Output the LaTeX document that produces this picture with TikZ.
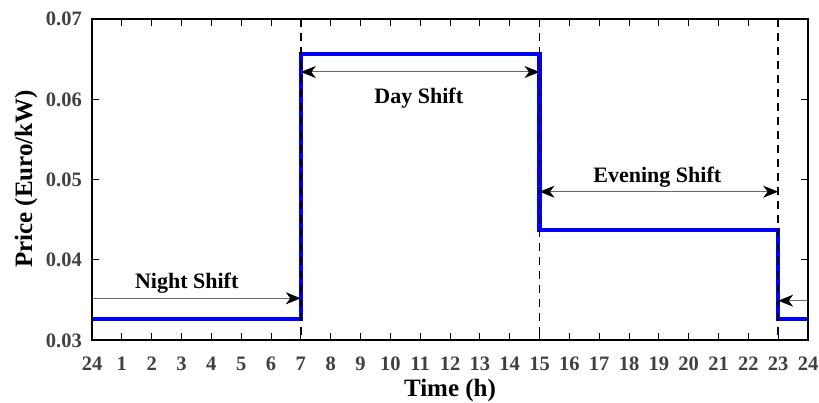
\documentclass[tikz,border=0pt]{standalone}
\usepackage{fontspec}
\setmainfont{Liberation Serif}
\usetikzlibrary{arrows.meta}
\definecolor{ticklbl}{RGB}{64,64,64}
\definecolor{arrgray}{RGB}{105,105,105}
\definecolor{priceblue}{RGB}{0,0,255}
\begin{document}
\begin{tikzpicture}[x=1pt,y=-1pt,
  axisbox/.style={line width=1.1pt,black},
  tickline/.style={line width=1pt,black},
  ticklab/.style={text=ticklbl,font=\fontsize{20.5}{24}\selectfont\bfseries,inner sep=0pt},
  axlab/.style={text=black,font=\fontsize{25}{30}\selectfont\bfseries,inner sep=0pt},
  shiftlab/.style={text=black,font=\fontsize{22}{26}\selectfont\bfseries,inner sep=0pt},
  priceline/.style={line width=4.5pt,priceblue,line cap=butt,line join=miter},
  vdash/.style={line width=1.5pt,black,dash pattern=on 8pt off 6pt},
  annarrow/.style={line width=1pt,arrgray,-{Stealth[black,length=15pt,width=12pt,inset=4.5pt]}},
  annarrow2/.style={line width=1pt,arrgray,{Stealth[black,length=15pt,width=12pt,inset=4.5pt]}-{Stealth[black,length=15pt,width=12pt,inset=4.5pt]}}
]
\useasboundingbox (0,0) rectangle (819,403);
% coordinates of the frame
\coordinate (bl) at (92,340);
\coordinate (tr) at (808,19);
% price curve
\draw[priceline] (92,319) -- (300.83,319) -- (300.83,54) -- (539.5,54) -- (539.5,230) -- (778.17,230) -- (778.17,319) -- (808,319);
% ticks
\foreach \i in {1,...,23}{
  \pgfmathsetmacro{\xx}{92+\i*29.8333}
  \draw[tickline] (\xx,340) -- (\xx,333);
  \draw[tickline] (\xx,19) -- (\xx,26);
}
\foreach \yy in {259.75,179.5,99.25}{
  \draw[tickline] (92,\yy) -- (99,\yy);
  \draw[tickline] (808,\yy) -- (801,\yy);
}
% frame
\draw[axisbox] (bl) rectangle (tr);
% dashed separators
\foreach \xx/\nm in {300.83/a,539.5/b,778.17/c}{
  \coordinate (dt\nm) at (\xx,19);
  \coordinate (db\nm) at (\xx,340);
  \draw[vdash] (dt\nm) -- (db\nm);
}
% x tick labels
\foreach \l [count=\i from 0] in {24,1,2,3,4,5,6,7,8,9,10,11,12,13,14,15,16,17,18,19,20,21,22,23,24}{
  \pgfmathsetmacro{\xx}{92+\i*29.8333}
  \node[ticklab,anchor=base] (xl\i) at (\xx,370) {\l};
}
% y tick labels
\foreach \v/\yy in {0.03/340,0.04/259.75,0.05/179.5,0.06/99.25,0.07/19}{
  \node[ticklab,anchor=base east] (yl\v) at (82,\yy+7) {\v};
}
% axis labels
\node[axlab,anchor=base] (xlabel) at (450,396) {Time (h)};
\node[axlab,anchor=base,rotate=90] (ylabel) at (32,179) {Price (Euro/kW)};
% shift annotations
\coordinate (ns0) at (93,298.3);
\coordinate (ns1) at (300.83,298.3);
\draw[annarrow] (ns0) -- (ns1);
\node[shiftlab,anchor=base] (night) at (186.7,288.5) {Night Shift};
\coordinate (ds0) at (300.83,72);
\coordinate (ds1) at (539.5,72);
\draw[annarrow2] (ds0) -- (ds1);
\node[shiftlab,anchor=base] (day) at (418.8,103.3) {Day Shift};
\coordinate (es0) at (539.5,191.7);
\coordinate (es1) at (778.17,191.7);
\draw[annarrow2] (es0) -- (es1);
\node[shiftlab,anchor=base] (evening) at (657.3,182.3) {Evening Shift};
\coordinate (ls0) at (807,300.7);
\coordinate (ls1) at (778.17,300.7);
\draw[annarrow] (ls0) -- (ls1);
\end{tikzpicture}
\end{document}
